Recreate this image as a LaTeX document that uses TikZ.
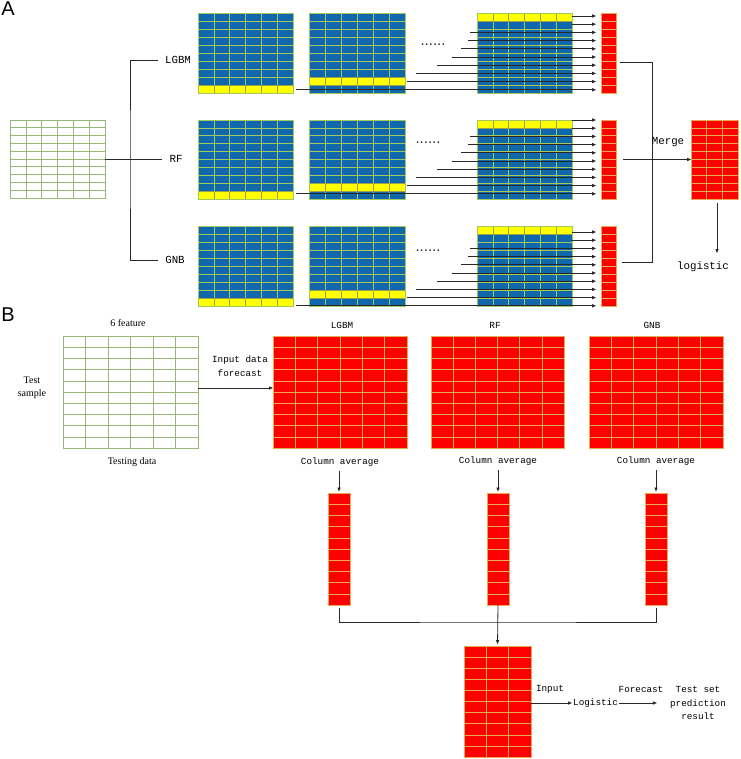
\documentclass[tikz,border=0pt]{standalone}
\usepackage{fontspec}
\setmainfont{Liberation Serif}
\newfontfamily\monof{Liberation Mono}
\newfontfamily\sansf{Liberation Sans}
\usetikzlibrary{arrows.meta,calc}

\definecolor{mblue}{RGB}{16,103,172}
\definecolor{bgrid}{RGB}{160,200,95}
\definecolor{yel}{RGB}{255,255,0}
\definecolor{ygrid}{RGB}{150,160,80}
\definecolor{mred}{RGB}{255,0,0}
\definecolor{rgrid}{RGB}{232,170,80}
\definecolor{ggrid}{RGB}{150,185,120}
\definecolor{conncol}{RGB}{40,40,40}

\tikzset{
  blk/.style={inner sep=0pt, outer sep=0pt, draw=none},
  gl/.style={line width=0.6pt},
  conn/.style={draw=conncol, line width=0.8pt},
  arr/.style={conn, -{Triangle[length=4pt,width=3.2pt]}},
  lblA/.style={font=\monof\fontsize{10.8}{12}\selectfont, inner sep=1pt, text=black},
  lblB/.style={font=\monof\fontsize{9.3}{13.5}\selectfont, inner sep=1pt, align=center, text=black},
  serifl/.style={font=\fontsize{10}{13.5}\selectfont, inner sep=1pt, align=center, text=black},
  dotsl/.style={font=\sansf\fontsize{15}{16}\selectfont, inner sep=0pt, text=conncol},
  panel/.style={font=\sansf\fontsize{20}{20}\selectfont, inner sep=0pt, text=black},
}

\def\yrow{0}
% name, x, y, w, h, cols, rows, fill, grid colour
\newcommand{\gridblk}[9]{%
  \node[blk, fill=#8, minimum width=#4pt, minimum height=#5pt, anchor=north west] (#1) at (#2,#3) {};
  \ifnum\yrow>0
    \fill[yel] (#2,{#3+(\yrow-1)*#5/#7}) rectangle ++(#4,{#5/#7});
  \fi
  \pgfmathtruncatemacro\ngc{#6-1}%
  \pgfmathtruncatemacro\ngr{#7-1}%
  \ifnum\ngc>0
    \foreach \i in {1,...,\ngc} {\draw[gl,#9] ({#2+\i*#4/#6},#3) -- ++(0,#5);}
  \fi
  \foreach \j in {1,...,\ngr} {\draw[gl,#9] (#2,{#3+\j*#5/#7}) -- ++(#4,0);}
  \ifnum\yrow>0
    \ifnum\ngc>0
      \foreach \i in {1,...,\ngc} {\draw[gl,ygrid] ({#2+\i*#4/#6},{#3+(\yrow-1)*#5/#7}) -- ++(0,{#5/#7});}
    \fi
    \draw[gl,ygrid] (#2,{#3+(\yrow-1)*#5/#7}) rectangle ++(#4,{#5/#7});
  \fi
  \draw[gl,#9] (#2,#3) rectangle ++(#4,#5);
}

\begin{document}
\begin{tikzpicture}[x=1pt,y=-1pt]
\useasboundingbox (0,0) rectangle (740,759);
\fill[white] (0,0) rectangle (740,759);

% ================= Panel A =================
\node[panel] (pA) at (8,9) {A};

\def\yrow{0}
\gridblk{gA}{10}{120}{95}{78}{6}{10}{white}{ggrid}

% model blocks: LGBM, RF, GNB
\def\yrow{10}\gridblk{L1}{198}{13}{95}{80}{6}{10}{mblue}{bgrid}
\def\yrow{9}\gridblk{L2}{309}{13}{96}{80}{6}{10}{mblue}{bgrid}
\def\yrow{1}\gridblk{L3}{477}{13}{95}{80}{6}{10}{mblue}{bgrid}
\def\yrow{0}\gridblk{RL}{601}{13}{15}{80}{1}{10}{mred}{rgrid}

\def\yrow{10}\gridblk{F1}{198}{120}{95}{79}{6}{10}{mblue}{bgrid}
\def\yrow{9}\gridblk{F2}{309}{120}{96}{79}{6}{10}{mblue}{bgrid}
\def\yrow{1}\gridblk{F3}{477}{120}{95}{79}{6}{10}{mblue}{bgrid}
\def\yrow{0}\gridblk{RR}{601}{120}{15}{79}{1}{10}{mred}{rgrid}

\def\yrow{10}\gridblk{G1}{198}{226}{95}{80}{6}{10}{mblue}{bgrid}
\def\yrow{9}\gridblk{G2}{309}{226}{96}{80}{6}{10}{mblue}{bgrid}
\def\yrow{1}\gridblk{G3}{477}{226}{95}{80}{6}{10}{mblue}{bgrid}
\def\yrow{0}\gridblk{RG}{601}{226}{15}{80}{1}{10}{mred}{rgrid}

\def\yrow{0}\gridblk{Mg}{691}{120}{47}{79}{3}{10}{mred}{rgrid}

% dots
\node[dotsl] (d1) at (433,45) {......};
\node[dotsl] (d2) at (428,143) {......};
\node[dotsl] (d3) at (428,251) {......};

% row arrows
\foreach \k/\sx in {0/572,1/572,2/470,3/468,4/461,5/452,6/437,7/416,8/407,9/296}{
  \pgfmathsetmacro\ya{16+\k*8.2}
  \pgfmathsetmacro\yb{120+\k*8.2}
  \pgfmathsetmacro\yc{232+\k*8.2}
  \draw[arr, shorten >=5pt] (\sx,\ya) -- (RL.west |- 0,\ya);
  \draw[arr, shorten >=5pt] (\sx,\yb) -- (RR.west |- 0,\yb);
  \draw[arr, shorten >=5pt] (\sx,\yc) -- (RG.west |- 0,\yc);
}

% model labels and bracket
\node[lblA] (tL) at (178,60) {LGBM};
\node[lblA] (tR) at (176,159) {RF};
\node[lblA] (tG) at (175,260) {GNB};
\coordinate (bj) at (130,159);
\draw[conn] ([xshift=-6pt]tL.west) -| (bj) |- ([xshift=-6pt]tG.west);
\draw[conn] (gA.east) -- ([xshift=-6pt]tR.west);

% merge
\coordinate (m1) at (652,62);
\coordinate (m3) at (652,262);
\draw[conn] ($(RL.east |- m1)+(4,0)$) -- (m1) -- (m3) -- ($(RG.east |- m3)+(6,0)$);
\draw[arr] ($(RR.east)+(7,0)$) -- (Mg.west |- RR.east);
\node[lblA] (tMerge) at (668,142) {Merge};
\node[lblA] (tlog) at (703,267) {logistic};
\coordinate (logend) at (717,253);
\draw[arr, shorten <=4pt] (Mg.south -| logend) -- (logend);

% ================= Panel B =================
\node[panel] (pB) at (8,315) {B};

\gridblk{gB}{63}{336}{135}{112}{6}{10}{white}{ggrid}
\node[serifl] (tFeat) at (128,323) {6 feature};
\node[serifl] (tSamp) at (32,388) {Test\\sample};
\node[serifl] (tTest) at (132,462) {Testing data};

\gridblk{bLm}{273}{336}{134}{112}{6}{10}{mred}{rgrid}
\gridblk{bRm}{431}{336}{133}{112}{6}{10}{mred}{rgrid}
\gridblk{bGm}{589}{336}{134}{112}{6}{10}{mred}{rgrid}

\node[lblB] (tIn) at (240,366) {Input data\\forecast};
\draw[arr] (gB.east |- 0,388) -- (bLm.west |- 0,388);

\node[lblB] (hL) at (342,325) {LGBM};
\node[lblB] (hR) at (495,325) {RF};
\node[lblB] (hG) at (652,325) {GNB};

\node[lblB] (cL) at (340,462) {Column average};
\node[lblB] (cR) at (498,461) {Column average};
\node[lblB] (cG) at (656,461) {Column average};

\gridblk{bL}{328}{493}{22}{112}{1}{10}{mred}{rgrid}
\gridblk{bR}{487}{493}{22}{112}{1}{10}{mred}{rgrid}
\gridblk{bG}{645}{493}{22}{112}{1}{10}{mred}{rgrid}

\draw[arr, shorten <=3pt, shorten >=1.5pt] (bL.north |- cL.south) -- (bL.north);
\draw[arr, shorten <=3pt, shorten >=1.5pt] (bR.north |- cR.south) -- (bR.north);
\draw[arr, shorten <=3pt, shorten >=1.5pt] (bG.north |- cG.south) -- (bG.north);

\gridblk{fM}{464}{646}{67}{111}{3}{10}{mred}{rgrid}

\coordinate (jB) at (498,622);
\draw[conn] ([yshift=-3pt]bL.south) |- (jB) -| ([yshift=-3pt]bG.south);
\draw[arr, shorten >=2pt] (bR.south) -- (fM.north);

\node[lblB, anchor=west] (tLog) at (572,703) {Logistic};
\node[lblB] (tInput) at (550,689) {Input};
\draw[arr] (fM.east |- tLog.west) -- (tLog.west);
\node[lblB] (tRes) at (698,703) {Test set\\prediction\\result};
\node[lblB] (tFc) at (641,689) {Forecast};
\draw[arr, shorten >=12pt] (tLog.east) -- (tRes.west |- tLog.east);

\end{tikzpicture}
\end{document}
